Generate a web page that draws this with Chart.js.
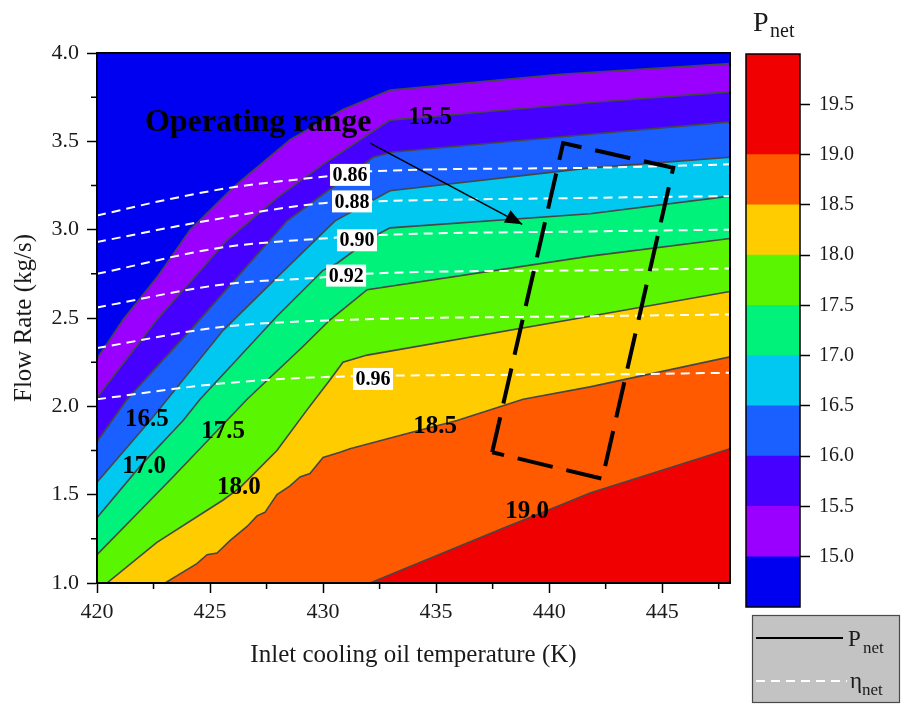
<!DOCTYPE html>
<html>
<head>
<meta charset="utf-8">
<title>Net power and efficiency map</title>
<script src="https://cdn.jsdelivr.net/npm/chart.js@4.4.1/dist/chart.umd.min.js"></script>
<style>
  html, body { margin: 0; padding: 0; background: #fff; }
  #wrap { position: relative; width: 901px; height: 706px; }
  #wrap canvas { position: absolute; left: 0; top: 0; }
</style>
</head>
<body>
<div id="wrap">
  <canvas id="map" width="901" height="706"></canvas>
  <canvas id="scale" width="901" height="706"></canvas>
</div>
<script>
// ---- P_net contour levels and band colours (lowest band first) ----
const levels = [15.0, 15.5, 16.0, 16.5, 17.0, 17.5, 18.0, 18.5, 19.0];
const bandColors = ['#0000F0', '#9900FF', '#4600FF', '#1A5FFF', '#00C8F0',
                    '#00F27A', '#5AF500', '#FFCC00', '#FF5A00', '#F00000'];
const colorbarRange = [14.5, 20.0];

// ---- P_net contour lines: inlet oil temperature (K) and flow rate (kg/s) ----
const p150T = [420, 421.15, 422.65, 424.12, 426.02, 428.54, 430.88, 432.96, 440.5, 448];
const p150F = [2.27, 2.49, 2.73, 3.00, 3.24, 3.51, 3.68, 3.79, 3.88, 3.94];
const p155T = [420, 422.65, 425.75, 427.96, 430.0, 432.96, 441.81, 448];
const p155F = [2.05, 2.49, 2.94, 3.18, 3.37, 3.62, 3.72, 3.78];
const p160T = [420, 421.33, 424.12, 428.41, 432.21, 433.10, 441.81, 448];
const p160F = [1.80, 2.04, 2.43, 3.05, 3.41, 3.44, 3.54, 3.61];
const p165T = [420, 422.35, 425.58, 427.96, 430.53, 432.96, 441.81, 448];
const p165F = [1.57, 1.92, 2.43, 2.73, 3.05, 3.22, 3.35, 3.41];
const p170T = [420, 421.90, 423.81, 424.56, 427.96, 430.0, 430.62, 432.21, 432.96, 441.81, 448];
const p170F = [1.37, 1.66, 1.92, 2.04, 2.51, 2.77, 2.81, 2.96, 3.01, 3.09, 3.19];
const p175T = [420, 423.36, 426.64, 429.12, 430.31, 431.95, 441.81, 448];
const p175F = [1.16, 1.60, 2.04, 2.34, 2.49, 2.66, 2.85, 2.95];
const p180T = [420.44, 422.65, 425.58, 426.33, 427.96, 429.29, 430.31, 430.88, 431.95, 441.81, 448];
const p180F = [1.0, 1.23, 1.47, 1.54, 1.75, 1.98, 2.15, 2.25, 2.29, 2.51, 2.65];
const p185T = [423.01, 424.42, 424.87, 425.31, 425.88, 426.64, 427.08, 427.43, 427.96, 428.54,
               428.98, 429.42, 430.0, 430.75, 431.19, 433.85, 435.93, 438.85, 441.81, 448];
const p185F = [1.0, 1.11, 1.16, 1.17, 1.24, 1.32, 1.38, 1.40, 1.50, 1.55,
               1.60, 1.62, 1.71, 1.74, 1.76, 1.85, 1.92, 2.04, 2.11, 2.28];
const p190T = [432.08, 437.96, 440.49, 441.81, 448];
const p190F = [1.0, 1.31, 1.44, 1.51, 1.76];

// ---- eta_net iso-lines ----
const e086T = [420, 423.10, 426.02, 430.0, 432.08, 441.81, 448];
const e086F = [3.08, 3.17, 3.24, 3.30, 3.33, 3.35, 3.37];
const e088T = [420, 424.42, 430.0, 432.08, 441.81, 448];
const e088F = [2.93, 3.04, 3.15, 3.16, 3.18, 3.19];
const e090T = [420, 425.58, 430.0, 432.52, 441.81, 448];
const e090F = [2.75, 2.90, 2.95, 2.97, 2.99, 3.00];
const e092T = [420, 425.58, 430.0, 431.77, 441.81, 448];
const e092F = [2.56, 2.69, 2.73, 2.75, 2.77, 2.78];
const e094T = [420, 425.58, 431.19, 441.81, 448];
const e094F = [2.33, 2.45, 2.49, 2.51, 2.52];
const e096T = [420, 425.58, 431.19, 441.81, 448];
const e096F = [2.04, 2.13, 2.17, 2.18, 2.19];

// ---- operating range outline and its pointer ----
const rangeT = [437.48, 440.62, 445.49, 442.35, 437.48];
const rangeF = [1.74, 3.49, 3.35, 1.59, 1.74];
const pointerT = [432.08, 438.81];
const pointerF = [3.49, 3.03];

// ---- inline labels ----
const contourLabelText = ['15.5', '16.5', '17.0', '17.5', '18.0', '18.5', '19.0'];
const contourLabelT = [434.73, 422.21, 422.08, 425.58, 426.28, 434.96, 439.03];
const contourLabelF = [3.632, 1.923, 1.657, 1.855, 1.543, 1.883, 1.402];
const etaLabelText = ['0.86', '0.88', '0.90', '0.92', '0.96'];
const etaLabelT = [431.19, 431.28, 431.50, 431.02, 432.21];
const etaLabelF = [3.31, 3.16, 2.94, 2.74, 2.155];

const SERIF = '"Liberation Serif", "Times New Roman", serif';
Chart.defaults.font.family = SERIF;
Chart.defaults.color = '#1a1a1a';

const pts = (T, F) => T.map((t, k) => ({ x: t, y: F[k] }));

const contourLines = [[p150T, p150F], [p155T, p155F], [p160T, p160F], [p165T, p165F], [p170T, p170F],
                      [p175T, p175F], [p180T, p180F], [p185T, p185F], [p190T, p190F]];
const etaLines = [[e086T, e086F], [e088T, e088F], [e090T, e090F], [e092T, e092F], [e094T, e094F], [e096T, e096F]];

const datasets = [];
// each contour fills everything below it; lower levels are painted first
contourLines.forEach(([T, F], i) => {
  datasets.push({
    label: 'P_net ' + levels[i].toFixed(1),
    data: pts(T, F),
    borderColor: '#464646',
    borderWidth: 1.6,
    backgroundColor: bandColors[i + 1],
    fill: 'start',
    tension: 0,
    pointRadius: 0,
    order: 40 - i
  });
});
etaLines.forEach(([T, F]) => {
  datasets.push({
    label: 'eta_net',
    data: pts(T, F),
    borderColor: '#ffffff',
    borderWidth: 2,
    borderDash: [9, 6],
    fill: false,
    cubicInterpolationMode: 'monotone',
    pointRadius: 0,
    order: 5
  });
});
datasets.push({
  label: 'Operating range',
  data: pts(rangeT, rangeF),
  borderColor: '#000',
  borderWidth: 4,
  borderDash: [36, 14],
  borderJoinStyle: 'miter',
  fill: false,
  tension: 0,
  pointRadius: 0,
  order: 2
});
const pointerIndex = datasets.length;
datasets.push({
  label: 'pointer',
  data: pts(pointerT, pointerF),
  borderColor: '#000',
  borderWidth: 1.6,
  fill: false,
  pointRadius: 0,
  order: 1
});

// paints the lowest band under every contour fill
const areaBackground = {
  id: 'areaBackground',
  beforeDatasetsDraw(chart) {
    const { ctx, chartArea: a } = chart;
    ctx.save();
    ctx.fillStyle = bandColors[0];
    ctx.fillRect(a.left, a.top, a.width, a.height);
    ctx.restore();
  }
};

// contour values, efficiency tags, caption and arrow head
const annotate = {
  id: 'annotate',
  afterDatasetsDraw(chart) {
    const { ctx, scales: { x, y } } = chart;
    ctx.save();
    ctx.fillStyle = '#000';
    ctx.textAlign = 'center';
    ctx.textBaseline = 'middle';
    ctx.font = 'bold 25px ' + SERIF;
    contourLabelText.forEach((s, i) => {
      ctx.fillText(s, x.getPixelForValue(contourLabelT[i]), y.getPixelForValue(contourLabelF[i]));
    });

    ctx.font = 'bold 20px ' + SERIF;
    etaLabelText.forEach((s, i) => {
      const cx = x.getPixelForValue(etaLabelT[i]);
      const cy = y.getPixelForValue(etaLabelF[i]);
      const w = ctx.measureText(s).width + 5;
      ctx.fillStyle = '#fff';
      ctx.fillRect(cx - w / 2, cy - 11, w, 22);
      ctx.fillStyle = '#000';
      ctx.fillText(s, cx, cy + 1);
    });

    ctx.font = 'bold 32px ' + SERIF;
    ctx.textAlign = 'left';
    ctx.textBaseline = 'alphabetic';
    ctx.fillText('Operating range', x.getPixelForValue(422.12), y.getPixelForValue(3.558));

    const meta = chart.getDatasetMeta(pointerIndex);
    const p0 = meta.data[0], p1 = meta.data[1];
    const ang = Math.atan2(p1.y - p0.y, p1.x - p0.x);
    const len = 17, half = 7;
    ctx.beginPath();
    ctx.moveTo(p1.x, p1.y);
    ctx.lineTo(p1.x - len * Math.cos(ang) + half * Math.sin(ang), p1.y - len * Math.sin(ang) - half * Math.cos(ang));
    ctx.lineTo(p1.x - len * Math.cos(ang) - half * Math.sin(ang), p1.y - len * Math.sin(ang) + half * Math.cos(ang));
    ctx.closePath();
    ctx.fill();
    ctx.restore();
  }
};

// short minor ticks between the labelled ones, plus the closed frame
const frameAndMinor = {
  id: 'frameAndMinor',
  afterDraw(chart) {
    const { ctx, chartArea: a, scales: { x, y } } = chart;
    ctx.save();
    ctx.strokeStyle = '#000';
    ctx.lineWidth = 1.5;
    ctx.beginPath();
    for (let v = x.min + 2.5; v < x.max; v += 5) {
      const px = x.getPixelForValue(v);
      ctx.moveTo(px, a.bottom); ctx.lineTo(px, a.bottom + 6);
    }
    for (let v = y.min + 0.25; v < y.max; v += 0.5) {
      const py = y.getPixelForValue(v);
      ctx.moveTo(a.left, py); ctx.lineTo(a.left - 6, py);
    }
    ctx.stroke();
    ctx.lineWidth = 2;
    ctx.strokeRect(a.left, a.top, a.width, a.height);
    ctx.restore();
  }
};

new Chart(document.getElementById('map'), {
  type: 'line',
  data: { datasets },
  options: {
    responsive: false,
    animation: false,
    events: [],
    layout: { padding: { left: 0, top: 53, right: 171, bottom: 0 } },
    plugins: { legend: { display: false }, tooltip: { enabled: false } },
    scales: {
      x: {
        type: 'linear',
        min: 420, max: 448,
        ticks: { stepSize: 5, includeBounds: false, maxRotation: 0, padding: 6,
                 font: { size: 22 }, color: '#1a1a1a' },
        grid: { drawOnChartArea: false, tickLength: 10, tickColor: '#000', tickWidth: 1.5 },
        border: { color: '#000', width: 2 },
        title: { display: true, text: 'Inlet cooling oil temperature (K)',
                 font: { size: 25 }, color: '#1a1a1a', padding: { top: 0, bottom: 36 } },
        afterFit(s) { s.height = 123; }
      },
      y: {
        type: 'linear',
        min: 1, max: 4,
        ticks: { stepSize: 0.5, includeBounds: false, padding: 8,
                 font: { size: 22 }, color: '#1a1a1a',
                 callback: v => Number(v).toFixed(1) },
        grid: { drawOnChartArea: false, tickLength: 10, tickColor: '#000', tickWidth: 1.5 },
        border: { color: '#000', width: 2 },
        title: { display: true, text: 'Flow Rate (kg/s)',
                 font: { size: 25 }, color: '#1a1a1a', padding: { top: 9, bottom: 0 } },
        afterFit(s) { s.width = 97; }
      }
    }
  },
  plugins: [areaBackground, annotate, frameAndMinor]
});

// ---- colour bar with its title and the line-style key ----
const cbEdges = [colorbarRange[0], ...levels, colorbarRange[1]];

const colorbarDeco = {
  id: 'colorbarDeco',
  afterDraw(chart) {
    const { ctx, chartArea: a } = chart;
    ctx.save();
    ctx.strokeStyle = '#000';
    ctx.lineWidth = 1.5;
    ctx.strokeRect(a.left, a.top, a.width, a.height);

    ctx.fillStyle = '#1a1a1a';
    ctx.textBaseline = 'alphabetic';
    ctx.textAlign = 'left';
    ctx.font = '28px ' + SERIF;
    ctx.fillText('P', 753, 31);
    ctx.font = '20px ' + SERIF;
    ctx.fillText('net', 770, 37);

    // key box
    ctx.fillStyle = '#C3C3C3';
    ctx.fillRect(752, 615, 148, 88);
    ctx.strokeStyle = '#4a4a4a';
    ctx.lineWidth = 1.2;
    ctx.strokeRect(752.5, 615.5, 147, 87);

    ctx.strokeStyle = '#000';
    ctx.lineWidth = 2;
    ctx.beginPath(); ctx.moveTo(756, 638); ctx.lineTo(843, 638); ctx.stroke();
    ctx.strokeStyle = '#fff';
    ctx.setLineDash([9, 6]);
    ctx.beginPath(); ctx.moveTo(756, 681); ctx.lineTo(847, 681); ctx.stroke();
    ctx.setLineDash([]);

    ctx.fillStyle = '#1a1a1a';
    ctx.font = '23px ' + SERIF;
    ctx.fillText('P', 848, 646);
    ctx.fillText('\u03B7', 850, 688);
    ctx.font = '17px ' + SERIF;
    ctx.fillText('net', 863, 653);
    ctx.fillText('net', 862, 695);
    ctx.restore();
  }
};

new Chart(document.getElementById('scale'), {
  type: 'bar',
  data: {
    labels: ['P_net'],
    datasets: bandColors.map((c, i) => ({
      label: cbEdges[i] + '-' + cbEdges[i + 1],
      data: [[cbEdges[i], cbEdges[i + 1]]],
      backgroundColor: c,
      borderWidth: 0,
      grouped: false,
      barPercentage: 1,
      categoryPercentage: 1
    }))
  },
  options: {
    responsive: false,
    animation: false,
    events: [],
    layout: { padding: { left: 746, top: 54, right: 0, bottom: 99 } },
    plugins: { legend: { display: false }, tooltip: { enabled: false } },
    scales: {
      x: { display: false },
      y: {
        position: 'right',
        min: colorbarRange[0], max: colorbarRange[1],
        ticks: { stepSize: 0.5, padding: 9, font: { size: 20 }, color: '#1a1a1a',
                 callback: v => Number(v).toFixed(1) },
        afterBuildTicks(s) {
          s.ticks = s.ticks.filter(t => t.value >= levels[0] - 1e-6 && t.value <= colorbarRange[1] - 0.25);
        },
        grid: { drawOnChartArea: false, tickLength: 10, tickColor: '#000', tickWidth: 1.5 },
        border: { display: false },
        afterFit(s) { s.width = 101; }
      }
    }
  },
  plugins: [colorbarDeco]
});
</script>
</body>
</html>
